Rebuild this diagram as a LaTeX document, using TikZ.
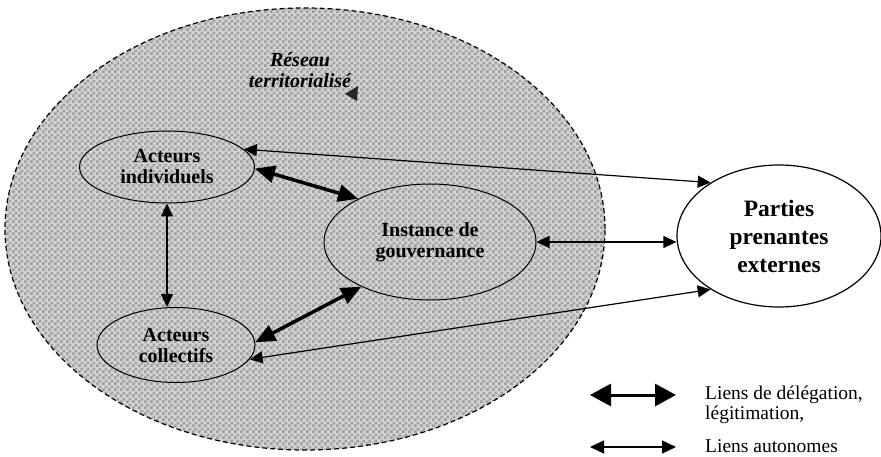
\documentclass[tikz,border=0pt]{standalone}
\usepackage{fontspec}
\setmainfont{Liberation Serif}
\usetikzlibrary{arrows.meta,shapes.geometric,patterns.meta}
\pgfdeclarepattern{name=chk, type=uncolored,
  bottom left={\pgfpoint{0pt}{0pt}}, top right={\pgfpoint{6pt}{6pt}},
  tile size={\pgfpoint{6pt}{6pt}},
  code={\pgfpathrectangle{\pgfpoint{0pt}{0pt}}{\pgfpoint{3pt}{3pt}}%
        \pgfpathrectangle{\pgfpoint{3pt}{3pt}}{\pgfpoint{3pt}{3pt}}%
        \pgfusepath{fill}}}
\tikzset{
  lbl/.style={font=\fontsize{20}{21}\selectfont\bfseries, align=center},
  oval/.style={ellipse, draw, line width=1pt, inner sep=0pt, lbl},
  thinarr/.style={line width=1.2pt, {Triangle[length=13pt,width=12pt]}-{Triangle[length=13pt,width=12pt]}},
  thickarr/.style={line width=3.5pt, {Triangle[length=20pt,width=17pt]}-{Triangle[length=20pt,width=17pt]}},
  legthin/.style={line width=1.2pt, {Triangle[length=14pt,width=13pt]}-{Triangle[length=14pt,width=13pt]}},
  legthick/.style={line width=3pt, {Triangle[length=21pt,width=22pt]}-{Triangle[length=21pt,width=22pt]}},
  legtxt/.style={font=\fontsize{19.5}{20.5}\selectfont, align=left, anchor=west, inner sep=0pt}
}
\begin{document}
\begin{tikzpicture}[x=1pt,y=-1pt]
\useasboundingbox (0,0) rectangle (881,457);
\fill[white] (0,0) rectangle (881,457);
% network ellipse
\node[ellipse, draw, line width=1.2pt, dash pattern=on 5pt off 3pt,
      preaction={fill=gray!35}, pattern=chk, pattern color=gray!75,
      minimum width=600pt, minimum height=442pt, inner sep=0pt] (net) at (305,229) {};
\node[lbl, font=\fontsize{20}{21}\selectfont\bfseries\itshape] (res) at (300,70) {Réseau\\territorialisé};
\fill[black!85] (345,94) -- (358,86) -- (357,101) -- cycle;
% nodes
\node[oval, minimum width=175pt, minimum height=72pt] (ind) at (167,167) {Acteurs\\individuels};
\node[oval, minimum width=158pt, minimum height=75pt] (col) at (176,345) {Acteurs\\collectifs};
\node[oval, minimum width=212pt, minimum height=116pt] (ins) at (430,242) {Instance de\\gouvernance};
\node[oval, fill=white, line width=1.2pt, minimum width=204pt, minimum height=142pt,
      font=\fontsize{23.5}{28}\selectfont\bfseries] (par) at (779,236) {Parties\\prenantes\\externes};
% connectors
\draw[thickarr] (ind.-1) -- (ins.149);
\draw[thickarr] (col.2) -- (ins.213);
\draw[thinarr] (ind.south) -- (ind.south |- col.north);
\draw[thinarr] (ind.13) -- (par.142);
\draw[thinarr] (ins.east) -- (ins.east -| par.west);
\draw[thinarr] (col.-11) -- (par.218);
% legend
\coordinate (l1a) at (590,395); \coordinate (l1b) at (676,395);
\coordinate (l2a) at (590,447); \coordinate (l2b) at (676,447);
\draw[legthick] (l1a) -- (l1b);
\draw[legthin] (l2a) -- (l2b);
\node[legtxt] (t1) at (705,405) {Liens de délégation,\\légitimation,};
\node[legtxt] (t2) at (705,446) {Liens autonomes};
\end{tikzpicture}
\end{document}
